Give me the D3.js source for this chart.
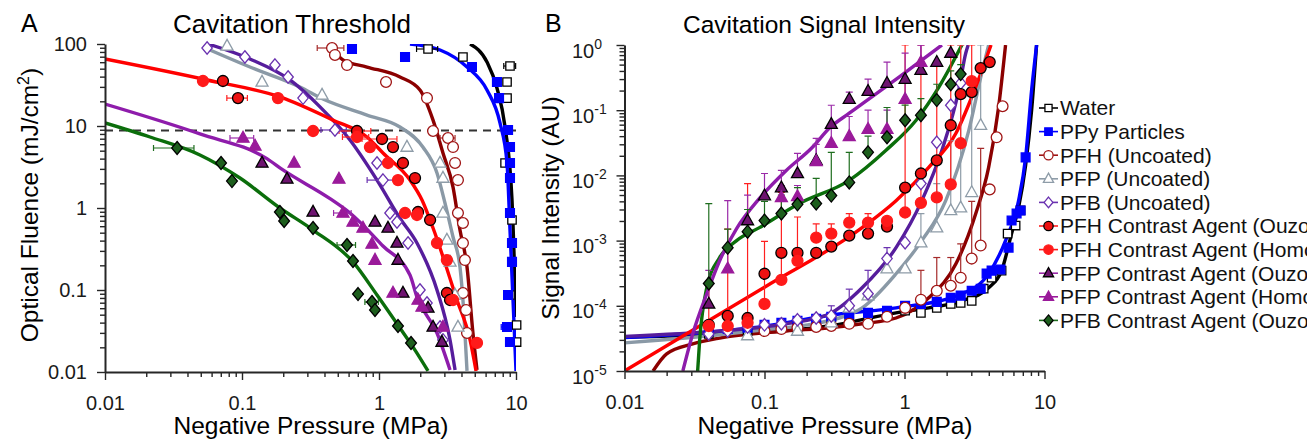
<!DOCTYPE html>
<html><head><meta charset="utf-8">
<script src="https://cdn.jsdelivr.net/npm/d3@7"></script>
<style>
html,body{margin:0;padding:0;background:#fff;overflow:hidden}
svg{display:block}
</style></head><body>
<svg id="chart" width="1307" height="446"></svg>
<script>
// ---------------- DATA ----------------
const seriesKeys  = ['water','ppy','pfhUnc','pfpUnc','pfbUnc','pfhOuzo','pfhHom','pfpOuzo','pfpHom','pfbOuzo'];
const seriesNames = ['Water','PPy Particles','PFH (Uncoated)','PFP (Uncoated)','PFB (Uncoated)',
  'PFH Contrast Agent (Ouzo)','PFH Contrast Agent (Homogenized)','PFP Contrast Agent (Ouzo)',
  'PFP Contrast Agent (Homogenized)','PFB Contrast Agent (Ouzo)'];
const xTickLabels  = ['0.01','0.1','1','10'];
const yTickLabelsA = ['0.01','0.1','1','10','100'];
const yTickExpB    = ['-5','-4','-3','-2','-1','0'];
const thresholdA   = 8.8;   // mJ/cm^2

// Panel A: [pressure MPa, fluence mJ/cm2, x error (MPa, optional)]
const waterA  = [[2.28,86.9,0.4],[4.10,69.4],[9.04,53.9,0.9],[8.60,34.4],[8.60,21.9],[8.32,3.54],[9.35,0.714],[9.04,0.0869],[10.1,0.0374],[10.1,0.0232]];
const ppyA    = [[0.635,86.9],[1.549,69.4],[4.77,52.4],[7.26,34.4],[7.52,21.9],[8.75,8.94],[9.04,5.54],[9.04,3.54],[9.04,2.32],[9.04,0.869],[9.35,0.374],[9.35,0.220],[8.75,0.0869],[8.60,0.0354,0.8],[9.04,0.0232]];
const pfhUncA = [[0.454,89.4,0.1],[0.477,73.5],[0.584,55.4],[1.125,34.4],[2.24,21.9],[2.48,8.69],[3.19,7.14,0.4],[3.47,5.54],[3.59,3.54],[3.77,2.19],[3.77,0.869],[4.10,0.656],[4.10,0.374],[4.24,0.232],[4.10,0.0919],[4.32,0.0570],[4.39,0.0299]];
const pfpUncA = [[0.0778,94.5],[0.140,34.4],[0.384,23.9],[1.60,5.54],[2.79,3.54],[2.93,2.32],[2.93,0.869],[3.13,0.407],[3.30,0.220],[3.59,0.0869],[3.77,0.0354]];
const pfbUncA = [[0.0556,89.4],[0.105,69.4],[0.174,55.4],[0.217,39.6],[0.279,21.9],[0.477,8.94,0.1],[0.967,3.54],[1.069,2.19,0.25],[1.203,0.869],[1.353,0.675],[1.629,0.374],[1.991,0.1],[2.24,0.0694],[2.79,0.0354],[2.93,0.0246]];
const pfhOuzoA= [[0.0726,35.4],[0.0935,21.9,0.016],[0.691,8.69,0.18],[1.052,6.94,0.3],[1.265,5.54],[1.496,3.54],[1.832,2.32],[1.927,0.894],[2.36,0.714],[3.13,0.0919],[3.30,0.0755]];
const pfhHomA = [[0.0519,35.4],[0.183,21.9],[0.330,8.69],[0.691,7.34,0.15],[0.859,5.54],[1.163,3.54],[1.376,2.19],[1.549,0.869],[1.893,0.822],[2.65,0.374],[3.13,0.232],[3.47,0.0755],[5.19,0.0226]];
const pfpOuzoA= [[0.140,3.54],[0.213,2.26],[0.330,0.894],[0.935,0.675],[1.163,0.570],[1.353,0.374],[1.376,0.232],[1.496,0.0919],[2.28,0.0603],[2.48,0.0354],[2.88,0.0232]];
const pfpHomA = [[0.1017,7.14,0.02],[0.1245,5.70],[0.240,3.54],[0.510,2.26],[0.546,0.869,0.08],[0.646,0.675],[0.764,0.570],[0.889,0.364],[0.935,0.232],[1.265,0.0919],[1.927,0.0755],[2.06,0.0621],[2.93,0.0354]];
const pfbOuzoA= [[0.0336,5.39,0.011],[0.0703,3.54],[0.0845,2.13],[0.189,0.894],[0.203,0.694],[0.330,0.570],[0.584,0.354,0.09],[0.646,0.226],[0.703,0.0893],[0.889,0.0714,0.1],[0.935,0.0570],[1.376,0.0364],[1.713,0.0226]];

// Panel A fitted curves: [pressure, fluence]
const fitWaterA  = [[4.62,100],[6.14,60.3],[7.26,29.1],[8.32,9.73],[9.35,1.25],[10,0.0469]];
const fitPpyA    = [[1.683,100],[2.79,84.5],[4.39,52.4],[6.14,27.5],[7.64,10.9],[8.60,3.54],[9.04,0.539],[9.51,0.0755],[10,0.0103]];
const fitPfhUncA = [[0.439,97.2],[0.546,63.8],[0.817,52.4],[1.422,39.6],[1.991,27.5],[2.48,11.8],[2.93,4.69],[3.47,1.80],[3.90,0.539],[4.39,0.191],[4.85,0.0299],[5.19,0.0106]];
const fitPfpUncA = [[0.0519,91.9],[0.1143,52.4],[0.265,29.9],[0.390,21.3],[0.817,13.6],[1.422,9.73],[2.09,5.54],[2.65,2.67],[3.03,1.15],[3.47,0.443],[3.90,0.191],[4.17,0.0496],[4.39,0.0103]];
const fitPfbUncA = [[0.0565,100],[0.1143,65.6],[0.224,36.4],[0.371,17.1],[0.614,6.75],[0.967,2.19],[1.422,0.75],[1.893,0.374],[2.65,0.1],[3.30,0.0246],[3.59,0.0106]];
const fitPfhCaA  = [[0.01,65.6],[0.0556,36.4],[0.189,22.6],[0.461,11.8],[0.817,7.34],[1.069,4.69],[1.683,2.19],[2.06,1.25],[2.48,0.570],[3.71,0.0755],[4.62,0.0246],[5.11,0.0103]];
const fitPfpCaA  = [[0.01,18.5],[0.0493,8.0],[0.152,4.0],[0.199,2.91],[0.439,1.3],[0.614,0.869],[1.069,0.344],[1.683,0.152],[1.893,0.0822],[2.65,0.0299],[3.30,0.0106]];
const fitPfbCaA  = [[0.01,10.9],[0.0213,7.34],[0.0493,4.43],[0.0966,2.32],[0.189,1.0],[0.330,0.539],[0.646,0.220],[0.967,0.0869],[1.422,0.0344],[1.832,0.0185],[2.28,0.0103]];

// Panel B: [pressure MPa, signal AU, upper error value (optional)]
const waterB  = [[0.040,3.7e-5],[0.0757,4.1e-5],[0.172,4.6e-5],[0.300,5.5e-5],[0.403,6.3e-5],[0.549,6.5e-5],[0.750,7.5e-5],[1.01,8.4e-5],[1.31,7.8e-5],[1.70,9.3e-5],[2.14,1.07e-4],[2.52,1.11e-4],[3.02,1.19e-4],[3.68,1.83e-4],[4.19,2.7e-4],[4.94,3.46e-4],[5.45,1.28e-3],[6.22,1.70e-3],[6.75,2.9e-3]];
const ppyB    = [[0.040,4.1e-5],[0.0546,4.4e-5],[0.0757,4.6e-5],[0.1,5.1e-5],[0.132,5.5e-5],[0.172,5.9e-5],[0.234,6.3e-5],[0.300,6.8e-5],[0.403,7.5e-5],[0.549,7.8e-5],[0.750,8.4e-5],[1.01,1.0e-4],[1.31,1.07e-4],[1.70,1.15e-4],[2.14,1.33e-4],[2.52,1.43e-4],[3.02,1.70e-4],[3.50,1.83e-4],[3.86,3.11e-4],[4.19,3.46e-4],[4.85,3.6e-4],[5.54,7.8e-4],[5.82,2.03e-3],[6.32,2.6e-3],[6.75,2.9e-3],[7.33,0.0189]];
const pfhUncB = [[0.1,4.1e-5],[0.132,4.4e-5],[0.172,4.6e-5],[0.234,4.75e-5],[0.300,4.9e-5],[0.403,5.3e-5],[0.549,5.3e-5],[0.750,6.8e-5],[1.01,9.3e-5],[1.31,1.24e-4,3.5e-4],[1.70,1.70e-4,5.5e-4],[2.14,2.03e-4,5.5e-4],[2.52,2.70e-4,8.9e-4],[3.02,5.3e-4,4e-3],[3.50,8.4e-4,0.026],[4.06,6.1e-3],[4.55,0.0384],[5.02,0.115]];
const pfpUncB = [[0.0757,3.5e-5],[0.172,4.1e-5],[0.300,5.5e-5],[0.403,9.3e-5],[0.549,1.43e-4],[0.750,3.7e-4],[1.01,3.7e-4],[1.31,9.3e-4,2.6e-3],[1.70,1.58e-3,7.5e-3],[2.14,2.9e-3,0.034],[2.52,3.2e-3,1],[3.02,5.5e-3,0.3],[3.50,0.0588,1]];
const pfbUncB = [[0.040,3.7e-5],[0.0546,4.1e-5],[0.0757,4.75e-5],[0.1,5.1e-5],[0.132,5.3e-5],[0.172,6.1e-5],[0.234,6.5e-5],[0.300,7.0e-5,1e-4],[0.403,1e-4,1.8e-4],[0.549,1.53e-4,3.5e-4],[0.750,5.3e-4,7.8e-4],[1.01,9.3e-4],[1.31,7.5e-3],[1.70,0.0322],[2.14,0.119],[2.52,0.260]];
const pfhOuzoB= [[0.040,5.1e-5],[0.0546,7.0e-5],[0.0757,6.5e-5],[0.1,3.1e-4],[0.132,6.5e-4],[0.172,6.5e-4],[0.234,6.5e-4],[0.300,8.1e-4],[0.403,1.19e-3],[0.549,1.28e-3],[0.750,1.64e-3],[1.01,6.5e-3],[1.31,0.0107],[1.70,0.017],[2.14,0.0588],[2.52,0.176],[3.02,0.189],[3.50,0.443],[4.06,0.547]];
const pfhHomB = [[0.040,4.9e-5,2e-4],[0.0546,4.9e-5,1.5e-3],[0.0757,5.5e-5,7.5e-3],[0.1,1.07e-4,9.7e-4],[0.132,2.5e-4,5.5e-3],[0.172,4.9e-4,2.3e-3],[0.234,1.11e-3,1.8e-3],[0.300,1.28e-3,1.8e-3],[0.403,1.89e-3,2.6e-3],[0.549,1.89e-3,2.6e-3],[0.750,2.0e-3,2.2e-3],[1.01,2.7e-3,1],[1.31,3.8e-3,1],[1.70,4.6e-3,0.55],[2.14,7.3e-3,1],[2.52,0.0311,1],[3.02,0.279,1]];
const pfpOuzoB= [[0.040,1.07e-4,3.5e-4],[0.0757,2.03e-3,5e-3],[0.1,4.9e-3,0.0107],[0.132,6.5e-3,0.0119],[0.172,0.0107,0.0218],[0.234,0.017,0.037],[0.300,0.0609,0.119],[0.403,0.148,0.189],[0.549,0.196,0.3],[0.750,0.260,0.547],[1.01,0.300,0.753],[1.31,0.412,1],[1.70,0.547],[2.14,0.753]];
const pfpHomB = [[0.0546,3.7e-4,4.1e-3],[0.132,4.6e-3,7e-3],[0.172,4.75e-3,7e-3],[0.234,0.0164,0.03],[0.300,0.0311,0.06],[0.403,0.0398,0.08],[0.549,0.051,0.1],[0.750,0.051,0.1],[1.01,0.148,0.3],[1.31,0.547,1]];
const pfbOuzoB= [[0.040,2.2e-4,3.7e-3],[0.0546,7.8e-4,1.5e-3],[0.0757,1.37e-3,3e-3],[0.1,2.03e-3,4e-3],[0.132,2.6e-3,5e-3],[0.172,3.6e-3,6.5e-3],[0.234,3.7e-3,9e-3],[0.300,4.9e-3,0.0226],[0.403,7.8e-3,0.0226],[0.549,0.0226,0.04],[0.750,0.0384,0.11],[1.01,0.0702,0.12],[1.31,0.0838,0.15],[1.70,0.143,0.25],[2.14,0.25,0.4],[2.52,0.358,0.5]];

// Panel B fitted curves
const fitWaterB  = [[0.01,3.3e-5],[0.0478,3.7e-5],[0.29,4.9e-5],[0.87,7.8e-5],[1.49,9.3e-5],[2.57,1.19e-4],[3.99,1.89e-4],[4.94,3.46e-4],[5.82,1.28e-3],[6.53,3.22e-3],[7.33,0.0143],[8.09,0.1],[8.78,1.0]];
const fitPpyB    = [[0.01,3.25e-5],[0.0822,4.6e-5],[0.342,7.5e-5],[0.87,9.3e-5],[2.57,1.53e-4],[3.99,3.11e-4],[5.27,1e-3],[6.53,4.1e-3],[7.33,0.0189],[8.09,0.203],[8.78,1.0]];
const fitPfhUncB = [[0.016,1e-5],[0.020,1.83e-5],[0.0307,2.6e-5],[0.0478,3.2e-5],[0.143,4.1e-5],[0.29,4.6e-5],[0.498,5.3e-5],[0.87,6.5e-5],[1.49,1.33e-4],[2.33,4.4e-4],[3.23,2.6e-3],[3.99,0.0133],[4.70,0.111],[5.27,1.0]];
const fitPfpUncB = [[0.01,2.7e-5],[0.0822,4.1e-5],[0.342,6.5e-5],[0.498,9.3e-5],[0.870,3.1e-4],[1.33,1e-3],[1.97,4.1e-3],[2.88,0.049],[3.56,0.371],[3.99,1.0]];
const fitPfbUncB = [[0.01,3.4e-5],[0.0478,4.1e-5],[0.143,5.3e-5],[0.29,7.5e-5],[0.498,1.89e-4],[0.870,7.8e-4],[1.33,4.1e-3],[1.85,0.0243],[2.44,0.203],[2.74,0.753],[2.85,1.0]];
const fitPfhCaB  = [[0.01,1e-5],[0.1,1.93e-4],[0.498,1.58e-3],[0.870,4.1e-3],[1.49,0.0133],[2.33,0.0443],[3.02,0.158],[3.80,0.588],[4.15,1.0]];
const fitPfpCaB  = [[0.0261,1e-5],[0.0307,3.7e-5],[0.0387,1.53e-4],[0.0478,4.9e-4],[0.0632,1.53e-3],[0.092,4.43e-3],[0.143,0.0119],[0.220,0.027],[0.29,0.0529],[0.403,0.0899],[0.914,0.322],[1.85,1.0]];
const fitPfbCaB  = [[0.0333,1e-5],[0.0344,2.9e-5],[0.0387,1.89e-4],[0.0478,5.5e-4],[0.0632,1e-3],[0.092,1.58e-3],[0.177,3.7e-3],[0.403,8.4e-3],[0.738,0.0243],[1.21,0.0702],[1.76,0.226],[2.57,1.0]];

// ---------------- STYLE ----------------
const FONT = '"Liberation Sans", Arial, Helvetica, sans-serif';
const AX = '#262626';
const styles = {
  water:  {shape:'square',  fill:'#ffffff', stroke:'#000000', bar:'#000000', size:4.2},
  ppy:    {shape:'square',  fill:'#0000ff', stroke:'#0000ff', bar:'#0000ff', size:4.4},
  pfhUnc: {shape:'circle',  fill:'#ffffff', stroke:'#a01515', bar:'#a52a2a', size:5.4},
  pfpUnc: {shape:'triangle',fill:'#ffffff', stroke:'#8e9ca8', bar:'#8e9ca8', size:6},
  pfbUnc: {shape:'diamond', fill:'#ffffff', stroke:'#6a32b0', bar:'#6a32b0', size:5.2},
  pfhOuzo:{shape:'circle',  fill:'#ee1111', stroke:'#000000', bar:'#ff2020', size:5.5},
  pfhHom: {shape:'circle',  fill:'#ff1a1a', stroke:'#ff1a1a', bar:'#ff2020', size:5.5},
  pfpOuzo:{shape:'triangle',fill:'#6e1470', stroke:'#000000', bar:'#9a2aa8', size:6},
  pfpHom: {shape:'triangle',fill:'#9a1a9a', stroke:'#9a1a9a', bar:'#9a2aa8', size:6},
  pfbOuzo:{shape:'diamond', fill:'#1d5e1d', stroke:'#000000', bar:'#1f6e1f', size:5.4}
};
const fitColors = {water:'#000000', ppy:'#0000ff', pfhUnc:'#8b0000', pfpUnc:'#8a99a6', pfbUnc:'#561d9c',
  pfhCa:'#ff0000', pfpCa:'#8e1cab', pfbCa:'#0b6e0b'};

const pointsA = {water:waterA, ppy:ppyA, pfhUnc:pfhUncA, pfpUnc:pfpUncA, pfbUnc:pfbUncA,
  pfhOuzo:pfhOuzoA, pfhHom:pfhHomA, pfpOuzo:pfpOuzoA, pfpHom:pfpHomA, pfbOuzo:pfbOuzoA};
const pointsB = {water:waterB, ppy:ppyB, pfhUnc:pfhUncB, pfpUnc:pfpUncB, pfbUnc:pfbUncB,
  pfhOuzo:pfhOuzoB, pfhHom:pfhHomB, pfpOuzo:pfpOuzoB, pfpHom:pfpHomB, pfbOuzo:pfbOuzoB};
const fitsA = [['water',fitWaterA],['ppy',fitPpyA],['pfhUnc',fitPfhUncA],['pfpUnc',fitPfpUncA],['pfbUnc',fitPfbUncA],
  ['pfpCa',fitPfpCaA],['pfbCa',fitPfbCaA],['pfhCa',fitPfhCaA]];
const fitsB = [['water',fitWaterB],['ppy',fitPpyB],['pfhUnc',fitPfhUncB],['pfpUnc',fitPfpUncB],['pfbUnc',fitPfbUncB],
  ['pfhCa',fitPfhCaB],['pfbCa',fitPfbCaB],['pfpCa',fitPfpCaB]];

// ---------------- SCALES ----------------
const xA = d3.scaleLog().domain([0.01,10]).range([105,516]);
const yA = d3.scaleLog().domain([0.01,100]).range([372,44]);
const xB = d3.scaleLog().domain([0.01,10]).range([624.5,1044.5]);
const yB = d3.scaleLog().domain([1e-5,1]).range([371,45]);

const svg = d3.select('#chart').attr('font-family', FONT);

function decadeTicks(lo, hi){
  const majors=[], minors=[];
  for(let e=lo;e<=hi;e++){
    majors.push(+('1e'+e));
    if(e<hi) for(let k=2;k<=9;k++) minors.push(+(k+'e'+e));
  }
  return {majors, minors};
}
function styleAxis(sel){
  sel.attr('font-family', FONT).attr('font-size', null);
  sel.select('.domain').attr('stroke', AX).attr('stroke-width', 2);
  sel.selectAll('.tick line').attr('stroke', AX).attr('stroke-width', 1.4);
  sel.selectAll('.tick text').attr('fill', '#1a1a1a').attr('font-size', 20);
}
function shapePath(shape, s){
  if(shape==='circle') return d3.symbol(d3.symbolCircle, Math.PI*s*s)();
  if(shape==='square') return `M${-s},${-s}H${s}V${s}H${-s}Z`;
  if(shape==='triangle') return `M0,${-s*1.1}L${s},${s*0.7}L${-s},${s*0.7}Z`;
  return `M0,${-s*1.2}L${s},0L0,${s*1.2}L${-s},0Z`;
}

function drawAxes(x, y, yLabelsFn, xTicks, yTicks, isB){
  const y0 = y.range()[0], x0 = x.range()[0];
  const gxm = svg.append('g').attr('transform',`translate(0,${y0})`)
    .call(d3.axisBottom(x).tickValues(xTicks.minors).tickSize(5).tickFormat('').tickSizeOuter(0));
  styleAxis(gxm); gxm.select('.domain').remove();
  const gx = svg.append('g').attr('transform',`translate(0,${y0})`)
    .call(d3.axisBottom(x).tickValues(xTicks.majors).tickSize(8).tickPadding(16).tickSizeOuter(0)
      .tickFormat((d,i)=>xTickLabels[i]));
  styleAxis(gx);
  const gym = svg.append('g').attr('transform',`translate(${x0},0)`)
    .call(d3.axisLeft(y).tickValues(yTicks.minors).tickSize(5).tickFormat('').tickSizeOuter(0));
  styleAxis(gym); gym.select('.domain').remove();
  const gy = svg.append('g').attr('transform',`translate(${x0},0)`)
    .call(d3.axisLeft(y).tickValues(yTicks.majors).tickSize(8).tickPadding(10).tickSizeOuter(0)
      .tickFormat(isB ? '' : (d,i)=>yLabelsFn[i]));
  styleAxis(gy);
  if(isB){
    gy.selectAll('.tick').each(function(d,i){
      const t = d3.select(this).select('text').text(null)
        .attr('x', 572 - x0).attr('dy', null).attr('y', 12).attr('text-anchor','start').attr('font-size',20);
      t.append('tspan').text('10');
      t.append('tspan').attr('font-size',14).attr('dy',-9).text(yTickExpB[i]);
    });
  }
}

function drawPanel(id, x, y, pts, fits, isB){
  const [xl,xr] = x.range(), [yb,yt] = y.range();
  svg.append('clipPath').attr('id','clip'+id).append('rect')
    .attr('x',xl).attr('y',yt).attr('width',xr-xl).attr('height',yb-yt);
  const g = svg.append('g');
  const gl = g.append('g').attr('clip-path',`url(#clip${id})`);
  if(!isB){
    gl.append('line').attr('x1',xl).attr('x2',xr).attr('y1',y(thresholdA)).attr('y2',y(thresholdA))
      .attr('stroke','#333').attr('stroke-width',2).attr('stroke-dasharray','8,6');
  }
  const line = d3.line().x(d=>x(d[0])).y(d=>y(d[1])).curve(d3.curveMonotoneX);
  fits.forEach(([k,data])=>{
    gl.append('path').datum(data).attr('d',line).attr('fill','none')
      .attr('stroke',fitColors[k]).attr('stroke-width',3.4).attr('stroke-linejoin','round');
  });
  const ge = g.append('g').attr('clip-path', isB ? `url(#clip${id})` : null);
  seriesKeys.forEach(k=>{
    const st = styles[k];
    pts[k].filter(p=>p.length>2).forEach(p=>{
      if(!isB){
        const x1 = x(Math.max(p[0]-p[2], 0.011)), x2 = x(p[0]+p[2]), yy = y(p[1]);
        ge.append('line').attr('x1',x1).attr('x2',x2).attr('y1',yy).attr('y2',yy).attr('stroke',st.bar).attr('stroke-width',1.2);
        [x1,x2].forEach(xx=>ge.append('line').attr('x1',xx).attr('x2',xx).attr('y1',yy-3).attr('y2',yy+3).attr('stroke',st.bar).attr('stroke-width',1.2));
      } else {
        const xx = x(p[0]), y1 = y(p[1]), y2 = y(Math.min(p[2],1.5));
        ge.append('line').attr('x1',xx).attr('x2',xx).attr('y1',y1).attr('y2',y2).attr('stroke',st.bar).attr('stroke-width',1.2);
        ge.append('line').attr('x1',xx-3.5).attr('x2',xx+3.5).attr('y1',y2).attr('y2',y2).attr('stroke',st.bar).attr('stroke-width',1.2);
      }
    });
  });
  const gm = g.append('g');
  seriesKeys.forEach(k=>{
    const st = styles[k];
    gm.selectAll(null).data(pts[k]).enter().append('path')
      .attr('transform',d=>`translate(${x(d[0])},${y(d[1])})`)
      .attr('d',shapePath(st.shape, st.size))
      .attr('fill',st.fill).attr('stroke',st.stroke).attr('stroke-width',1.3);
  });
}

drawPanel('A', xA, yA, pointsA, fitsA, false);
drawPanel('B', xB, yB, pointsB, fitsB, true);
drawAxes(xA, yA, yTickLabelsA, decadeTicks(-2,1), decadeTicks(-2,2), false);
drawAxes(xB, yB, null, decadeTicks(-2,1), decadeTicks(-5,0), true);

// ---------------- TEXT ----------------
svg.append('text').attr('x',21).attr('y',32).attr('font-size',25).text('A');
svg.append('text').attr('x',545).attr('y',32).attr('font-size',25).text('B');
svg.append('text').attr('x',292).attr('y',33).attr('text-anchor','middle').attr('font-size',26).text('Cavitation Threshold');
svg.append('text').attr('x',824).attr('y',33).attr('text-anchor','middle').attr('font-size',24.5).text('Cavitation Signal Intensity');
svg.append('text').attr('x',311).attr('y',434).attr('text-anchor','middle').attr('font-size',24.5).text('Negative Pressure (MPa)');
svg.append('text').attr('x',835).attr('y',434).attr('text-anchor','middle').attr('font-size',24.5).text('Negative Pressure (MPa)');
const ylA = svg.append('text').attr('transform','translate(38,205) rotate(-90)').attr('text-anchor','middle').attr('font-size',24.5);
ylA.append('tspan').text('Optical Fluence (mJ/cm');
ylA.append('tspan').attr('font-size',16).attr('dy',-9).text('2');
ylA.append('tspan').attr('dy',9).text(')');
svg.append('text').attr('transform','translate(559,208) rotate(-90)').attr('text-anchor','middle').attr('font-size',24.5).text('Signal Intensity (AU)');

// ---------------- LEGEND ----------------
const lg = svg.append('g');
seriesKeys.forEach((k,i)=>{
  const st = styles[k], cy = 108 + i*23.6;
  const lineCol = st.stroke === '#000000' ? st.bar : st.stroke;
  lg.append('line').attr('x1',1039).attr('x2',1058).attr('y1',cy).attr('y2',cy)
    .attr('stroke', k==='water' ? '#000' : lineCol).attr('stroke-width',1.6);
  lg.append('path').attr('transform',`translate(1048.5,${cy})`).attr('d',shapePath(st.shape, st.size*0.85))
    .attr('fill',st.fill).attr('stroke',st.stroke).attr('stroke-width',1.3);
  lg.append('text').attr('x',1060).attr('y',cy).attr('dy','0.35em').attr('font-size',21).attr('fill','#111').text(seriesNames[i]);
});
</script>
</body></html>
